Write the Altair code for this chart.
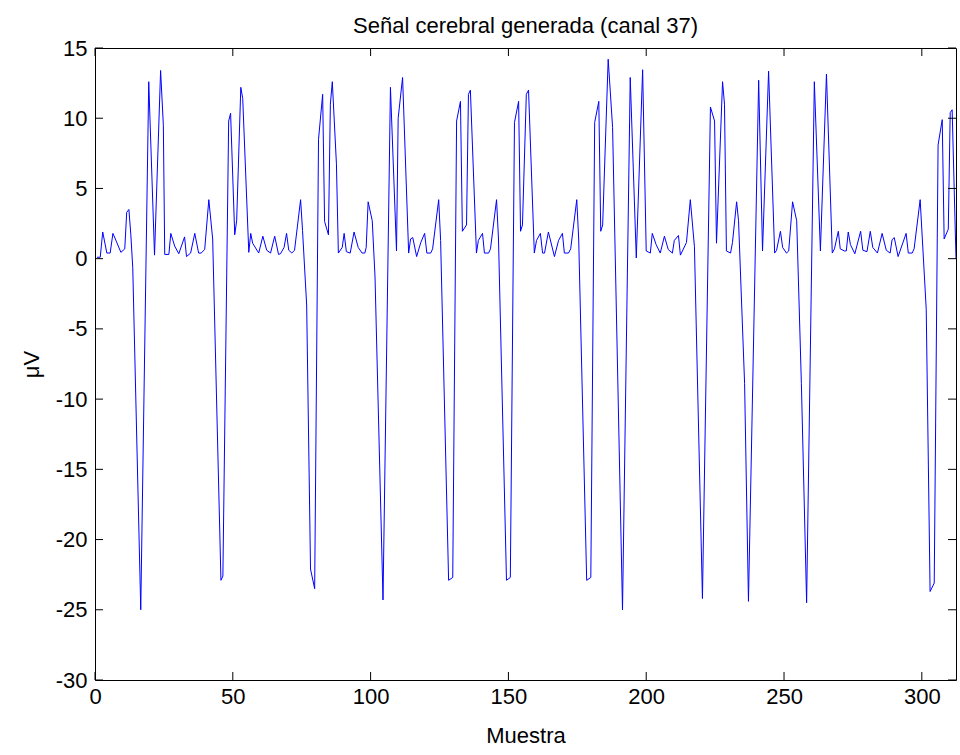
import altair as alt
import pandas as pd

# Vertices of the trace (sample, microvolts)
muestra = [0.7, 1.9, 2.8, 4.3, 5.5, 6.5, 7.7, 9.4, 10.8, 11.5, 12.3, 13.0, 13.7, 16.6, 19.5, 21.6, 23.8, 24.8, 25.3,
           26.8, 27.5, 28.9, 30.4, 32.5, 33.2, 34.7, 36.2, 37.6, 38.5, 39.8, 41.3, 42.7, 45.7, 46.4, 48.5, 49.2,
           50.7, 51.4, 52.9, 53.6, 55.8, 56.5, 57.2, 59.4, 60.9, 62.3, 63.7, 65.2, 66.6, 67.3, 68.6, 69.5, 70.3,
           71.4, 72.4, 74.6, 75.3, 76.8, 78.2, 79.7, 81.1, 82.6, 83.3, 84.7, 85.4, 86.1, 87.6, 88.3, 89.7, 90.4,
           91.2, 92.6, 94.0, 95.5, 96.9, 97.9, 98.4, 99.1, 100.6, 101.6, 104.5, 107.2, 109.4, 110.0, 111.6, 113.8,
           114.5, 115.3, 116.7, 118.2, 119.6, 120.4, 121.8, 122.5, 124.7, 125.4, 128.3, 129.8, 131.2, 132.6, 133.3,
           134.8, 135.5, 136.2, 138.4, 139.1, 140.6, 141.3, 142.8, 143.5, 145.7, 146.4, 149.3, 150.7, 152.2, 153.7,
           154.4, 155.1, 156.5, 157.3, 159.4, 160.2, 161.6, 162.4, 163.1, 164.5, 166.7, 168.2, 169.6, 170.3, 171.8,
           172.6, 174.8, 175.5, 178.4, 179.9, 181.3, 182.8, 183.5, 184.2, 186.2, 187.8, 191.4, 194.2, 196.4, 198.7,
           200.0, 201.5, 202.2, 203.6, 205.1, 206.6, 208.0, 209.5, 210.2, 211.7, 212.4, 214.6, 216.0, 217.5, 220.4,
           223.3, 224.8, 225.5, 227.7, 228.4, 229.1, 230.6, 231.3, 232.8, 233.5, 235.7, 237.1, 240.8, 242.2, 244.4,
           246.6, 247.3, 248.7, 249.5, 250.9, 251.7, 253.1, 254.6, 256.3, 258.2, 261.0, 263.2, 265.4, 267.5, 268.3,
           269.7, 270.4, 271.9, 272.6, 273.3, 274.1, 275.7, 277.8, 278.6, 280.1, 281.3, 282.2, 283.9, 285.6, 287.1,
           288.5, 289.2, 290.0, 291.4, 294.3, 295.1, 296.5, 297.2, 299.4, 301.6, 303.0, 304.5, 305.9, 307.4, 308.1,
           309.6, 310.3, 311.0, 312.4]
valor = [0.1, 0.1, 1.9, 0.4, 0.4, 1.8, 1.25, 0.45, 0.7, 3.3, 3.5, 1.7, -0.65, -25.0, 12.6, 0.25, 13.4, 9.5, 0.3,
         0.3, 1.8, 0.9, 0.35, 1.55, 0.15, 0.4, 1.8, 0.4, 0.4, 0.65, 4.2, 1.4, -22.9, -22.6, 9.8, 10.35,
         1.7, 2.7, 12.2, 11.4, 0.45, 1.8, 1.1, 0.4, 1.6, 0.6, 0.4, 1.6, 0.3, 0.35, 0.8, 1.8, 0.6,
         0.4, 0.6, 4.2, 2.0, -3.3, -22.1, -23.5, 8.5, 11.7, 2.65, 1.7, 11.0, 12.6, 6.75, 0.4, 0.8, 1.8,
         0.5, 0.4, 1.9, 0.8, 0.4, 0.4, 0.8, 4.05, 2.7, -1.3, -24.3, 12.2, 0.55, 10.0, 12.9, 0.4,
         1.4, 1.5, 0.15, 1.15, 1.8, 0.4, 0.4, 0.7, 4.2, 1.3, -22.9, -22.7, 9.8, 11.2, 1.95,
         2.4, 11.7, 12.0, 0.4, 1.3, 1.8, 0.4, 0.4, 0.7, 4.2, 1.4, -22.9, -22.7, 9.7, 11.2,
         1.95, 2.4, 11.7, 12.0, 0.4, 1.3, 1.8, 0.4, 0.4, 1.9, 0.15, 1.3, 1.8, 0.4, 0.4,
         0.7, 4.2, 1.4, -22.9, -22.7, 9.7, 11.2, 1.95, 2.4, 14.2, 9.35, -25.0, 12.9, 0.05, 13.45,
         0.55, 0.4, 1.8, 1.0, 0.4, 1.6, 0.65, 0.4, 1.3, 1.65, 0.25, 1.15, 4.2, 0.85, -24.2,
         10.8, 9.8, 1.1, 12.6, 11.0, 0.55, 0.4, 1.15, 4.05, 2.7, -8.9, -24.4, 12.7, 0.55, 13.35,
         0.4, 0.6, 1.95, 0.8, 0.4, 0.55, 4.05, 2.7, -8.9, -24.5, 12.6, 0.55, 13.15, 0.4, 0.7,
         1.95, 0.7, 0.55, 0.55, 1.9, 1.0, 0.35, 1.95, 0.6, 0.5, 1.95, 0.8, 0.4, 1.8, 0.6,
         0.4, 1.35, 1.5, 0.15, 1.8, 0.4, 0.4, 0.7, 4.2, -3.6, -23.7, -23.1, 8.1, 9.9, 1.4,
         2.1, 10.4, 10.6, 0.0]

x_ticks = [0, 50, 100, 150, 200, 250, 300]
y_ticks = [15, 10, 5, 0, -5, -10, -15, -20, -25, -30]

W, H = 861, 632
FONT = "Liberation Sans"
FS = 22
TL = 8  # inside tick length (px)

df = pd.DataFrame({"Muestra": muestra, "uV": valor})
xt = pd.DataFrame({"Muestra": x_ticks})
yt = pd.DataFrame({"uV": y_ticks})

xscale = alt.Scale(domain=[0, 312.4], nice=False, zero=False)
yscale = alt.Scale(domain=[-30, 15], nice=False, zero=False)

xaxis = alt.Axis(values=x_ticks, title="Muestra", tickSize=0, labelPadding=6,
                 grid=False, domain=False, labelFontSize=FS, titleFontSize=FS,
                 labelFont=FONT, titleFont=FONT, titleFontWeight="normal",
                 labelColor="black", titleColor="black", titlePadding=18,
                 labelFlush=False, labelOverlap=False,
                 labelExpr="datum.value + ''")
yaxis = alt.Axis(values=y_ticks, title="μV", tickSize=0, labelPadding=8,
                 grid=False, domain=False, labelFontSize=FS, titleFontSize=FS,
                 labelFont=FONT, titleFont=FONT, titleFontWeight="normal",
                 labelColor="black", titleColor="black", titlePadding=12,
                 labelFlush=False, labelOverlap=False, labelBaseline="middle",
                 labelExpr="datum.value + ''")

X = alt.X("Muestra:Q", scale=xscale, axis=xaxis)
Y = alt.Y("uV:Q", scale=yscale, axis=yaxis)

line = alt.Chart(df).mark_line(color="#0000FF", strokeWidth=1, clip=True).encode(
    x=X, y=Y, order=alt.Order("Muestra:Q"))

bottom_ticks = alt.Chart(xt).mark_rule(color="black", strokeWidth=1).encode(
    x=X, y=alt.value(H), y2=alt.value(H - TL))
top_ticks = alt.Chart(xt).mark_rule(color="black", strokeWidth=1).encode(
    x=X, y=alt.value(0), y2=alt.value(TL))
left_ticks = alt.Chart(yt).mark_rule(color="black", strokeWidth=1).encode(
    y=Y, x=alt.value(0), x2=alt.value(TL))
right_ticks = alt.Chart(yt).mark_rule(color="black", strokeWidth=1).encode(
    y=Y, x=alt.value(W), x2=alt.value(W - TL))

chart = alt.layer(line, bottom_ticks, top_ticks, left_ticks, right_ticks).properties(
    width=W, height=H,
    title=alt.TitleParams("Señal cerebral generada (canal 37)", font=FONT, fontSize=FS,
                          fontWeight="normal", color="black", offset=-1, anchor="middle"),
    padding={"left": 95, "top": 48, "right": 4, "bottom": 75},
    autosize=alt.AutoSizeParams(type="none"),
    background="white",
).configure_view(stroke="black", strokeWidth=1)

chart.save("out.html", embed_options={"renderer": "svg", "actions": False})
